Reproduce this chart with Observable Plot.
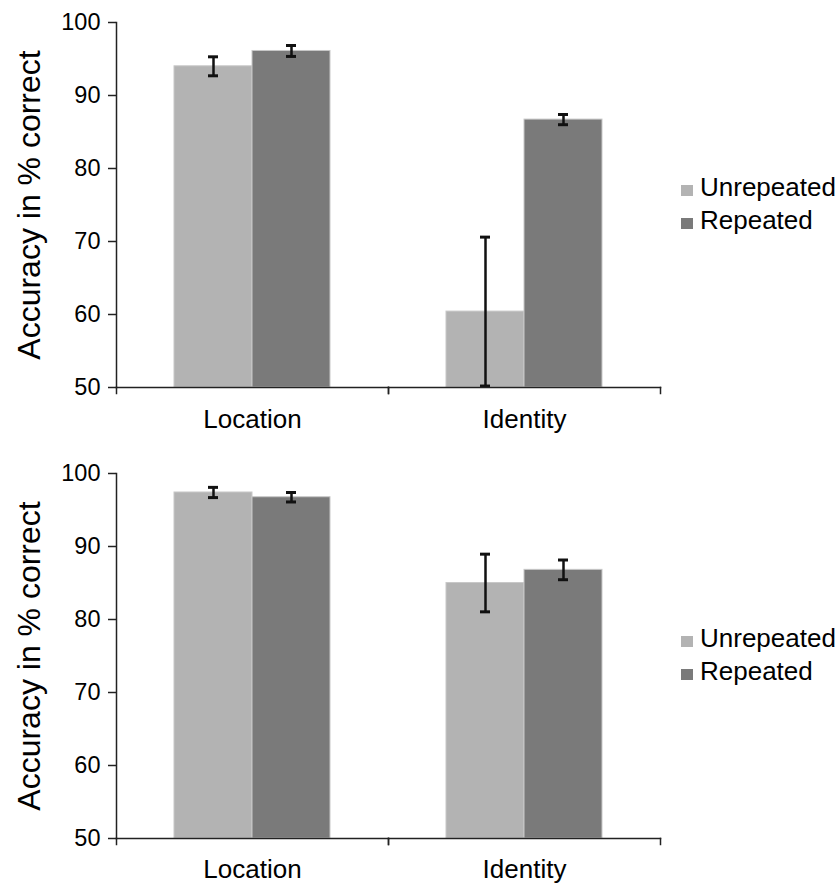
<!DOCTYPE html>
<html><head><meta charset="utf-8">
<script src="https://cdn.jsdelivr.net/npm/d3@7"></script>
<script src="https://cdn.jsdelivr.net/npm/@observablehq/plot@0.6"></script>
<style>
body{margin:0;background:#fff;font-family:"Liberation Sans",Arial,sans-serif;}
#chart{position:relative;width:839px;height:884px;background:#fff;}
.panel{position:relative;width:839px;}
.panel svg{display:block;}
.legend{position:absolute;left:681px;font-size:26px;line-height:33px;color:#000;white-space:nowrap;}
.sw{display:inline-block;width:12px;height:11px;margin-right:7px;}
</style></head><body><div id="chart"></div>
<script>
const categories = ["Location", "Identity"];
const conditions = ["Unrepeated", "Repeated"];
const colors = ["#b3b3b3", "#7a7a7a"];
const yTicks = [50, 60, 70, 80, 90, 100];
const yLabel = "Accuracy in % correct";

// Top panel (values per category: Location, Identity)
const topUnrepeated = [94.0, 60.4];
const topUnrepeatedErr = [1.3, 10.2];
const topRepeated = [96.1, 86.7];
const topRepeatedErr = [0.75, 0.7];

// Bottom panel
const bottomUnrepeated = [97.4, 85.0];
const bottomUnrepeatedErr = [0.7, 3.95];
const bottomRepeated = [96.75, 86.8];
const bottomRepeatedErr = [0.65, 1.35];

function rows(u, ue, r, re) {
  const out = [];
  categories.forEach((cat, i) => {
    out.push({cat, cond: conditions[0], value: u[i], err: ue[i]});
    out.push({cat, cond: conditions[1], value: r[i], err: re[i]});
  });
  return out;
}

function panel(data, height, marginBottom, labelPad) {
  const marginTop = 22;
  const plotH = height - marginTop - marginBottom;
  const axisColor = "#222";
  const svg = Plot.plot({
    width: 839, height, marginTop, marginBottom, marginLeft: 116, marginRight: 179,
    style: {fontFamily: '"Liberation Sans", Arial, sans-serif', color: "#000", background: "white", overflow: "visible"},
    fx: {domain: categories, padding: 0},
    x: {domain: conditions, paddingInner: 0, paddingOuter: 58 / 78, axis: null},
    y: {domain: [yTicks[0], yTicks[yTicks.length - 1]], axis: null},
    color: {domain: conditions, range: colors},
    marks: [
      Plot.barY(data, {fx: "cat", x: "cond", y1: yTicks[0], y2: "value", fill: "cond", stroke: "#c8c8c8", strokeWidth: 1}),
      Plot.ruleX(data, {fx: "cat", x: "cond", y1: d => d.value - d.err, y2: d => d.value + d.err, stroke: "#111", strokeWidth: 2.5}),
      Plot.tickY(data, {fx: "cat", x: "cond", y: d => d.value - d.err, insetLeft: 34, insetRight: 34, stroke: "#111", strokeWidth: 3}),
      Plot.tickY(data, {fx: "cat", x: "cond", y: d => d.value + d.err, insetLeft: 34, insetRight: 34, stroke: "#111", strokeWidth: 3}),
      Plot.frame({anchor: "bottom", stroke: axisColor, strokeWidth: 1.5}),
      Plot.frame({anchor: "left", facetAnchor: "left", stroke: axisColor, strokeWidth: 1.5}),
      Plot.frame({anchor: "left", insetTop: plotH, insetBottom: -6, stroke: axisColor, strokeWidth: 1.5}),
      Plot.frame({anchor: "right", insetTop: plotH, insetBottom: -6, stroke: axisColor, strokeWidth: 1.5}),
      Plot.axisY({ticks: yTicks, tickSize: 8, tickPadding: 8, fontSize: 23.5, label: null, stroke: axisColor, strokeWidth: 1.5}),
      Plot.axisFx({anchor: "bottom", tickSize: 0, tickPadding: labelPad, fontSize: 26, label: null}),
      Plot.text([yLabel], {text: d => d, frameAnchor: "left", facetAnchor: "left", textAnchor: "middle", lineAnchor: "middle", rotate: -90, dx: -87, fontSize: 32})
    ]
  });
  return svg;
}

function legend(top) {
  const div = document.createElement("div");
  div.className = "legend";
  div.style.top = top + "px";
  conditions.forEach((c, i) => {
    const item = document.createElement("div");
    const sw = document.createElement("span");
    sw.className = "sw";
    sw.style.background = colors[i];
    item.appendChild(sw);
    item.appendChild(document.createTextNode(c));
    div.appendChild(item);
  });
  return div;
}

const chart = document.getElementById("chart");
const specs = [
  {data: rows(topUnrepeated, topUnrepeatedErr, topRepeated, topRepeatedErr), height: 451, mb: 64, pad: 22},
  {data: rows(bottomUnrepeated, bottomUnrepeatedErr, bottomRepeated, bottomRepeatedErr), height: 433, mb: 46, pad: 21}
];
specs.forEach(s => {
  const wrap = document.createElement("div");
  wrap.className = "panel";
  wrap.style.height = s.height + "px";
  wrap.appendChild(panel(s.data, s.height, s.mb, s.pad));
  wrap.appendChild(legend(171));
  chart.appendChild(wrap);
});
</script>
</body></html>
